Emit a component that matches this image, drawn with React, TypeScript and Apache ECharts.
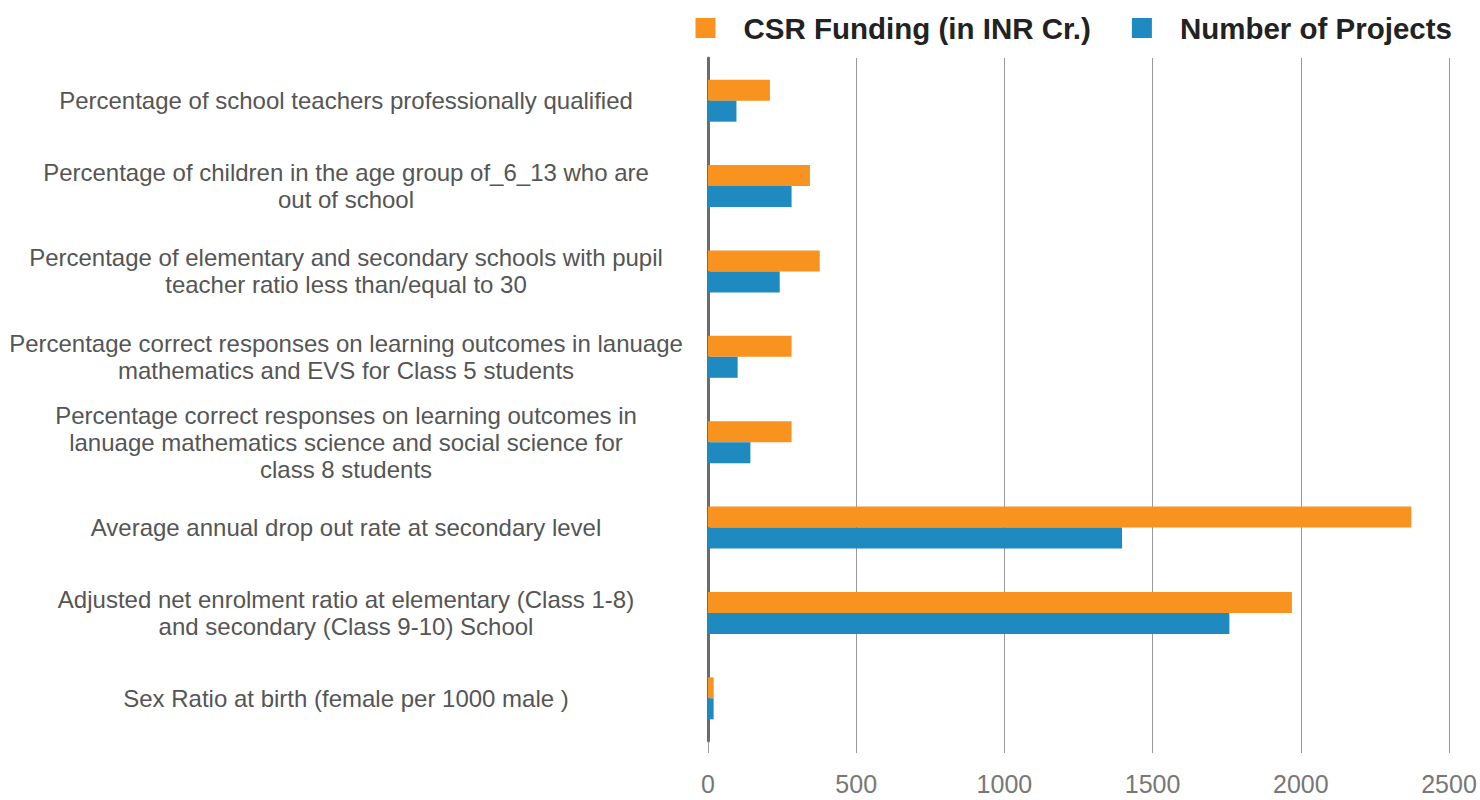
import React, { useEffect, useRef } from "react";
import * as echarts from "echarts";

const categories = [
  "Percentage of school teachers professionally qualified",
  "Percentage of children in the age group of_6_13 who are\nout of school",
  "Percentage of elementary and secondary schools with pupil\nteacher ratio less than/equal to 30",
  "Percentage correct responses on learning outcomes in lanuage\nmathematics and EVS for Class 5 students",
  "Percentage correct responses on learning outcomes in\nlanuage mathematics science and social science for\nclass 8 students",
  "Average annual drop out rate at secondary level",
  "Adjusted net enrolment ratio at elementary (Class 1-8)\nand secondary (Class 9-10) School",
  "Sex Ratio at birth (female per 1000 male )",
];

const csrFunding = [209, 344, 377, 282, 282, 2373, 1970, 19];
const numProjects = [96, 282, 242, 100, 143, 1397, 1759, 19];

const seriesNames = ["CSR Funding (in INR Cr.)", "Number of Projects"];
const seriesColors = ["#F7931E", "#1E8ABF"];

const FONT = "'Liberation Sans', Arial, Helvetica, sans-serif";

export default function App() {
  const ref = useRef<HTMLDivElement>(null);
  useEffect(() => {
    document.body.style.margin = "0";
    if (!ref.current) return;
    const chart = echarts.init(ref.current, undefined, { renderer: "svg" });
    chart.setOption({
      animation: false,
      backgroundColor: "#ffffff",
      textStyle: { fontFamily: FONT },
      legend: {
        top: 8,
        right: 23,
        itemWidth: 20,
        itemHeight: 20,
        itemGap: 41,
        icon: "rect",
        data: seriesNames,
        textStyle: {
          fontFamily: FONT,
          fontSize: 29.5,
          fontWeight: "bold",
          color: "#222222",
          padding: [0, 0, 0, 23],
        },
      },
      grid: { left: 708, right: 31, top: 58, bottom: 59, containLabel: false },
      xAxis: {
        type: "value",
        min: 0,
        max: 2500,
        interval: 500,
        axisLine: { show: false },
        axisTick: { show: true, length: 12, lineStyle: { color: "#999999", width: 1 } },
        splitLine: { show: true, lineStyle: { color: "#999999", width: 1 } },
        axisLabel: {
          color: "#777777",
          fontSize: 25,
          margin: 30,
          fontFamily: FONT,
          formatter: (v: number) => String(v),
        },
      },
      yAxis: {
        type: "category",
        inverse: true,
        data: categories,
        axisLine: { show: true, lineStyle: { color: "#6b6b6b", width: 3 } },
        axisTick: { show: false },
        axisLabel: {
          color: "#555555",
          fontSize: 24,
          lineHeight: 27,
          align: "center",
          margin: 362,
          fontFamily: FONT,
        },
      },
      series: [
        {
          name: seriesNames[0],
          type: "bar",
          data: csrFunding,
          barWidth: 21,
          barGap: "0%",
          itemStyle: { color: seriesColors[0] },
        },
        {
          name: seriesNames[1],
          type: "bar",
          data: numProjects,
          barWidth: 21,
          barGap: "0%",
          itemStyle: { color: seriesColors[1] },
        },
      ],
    });
    return () => chart.dispose();
  }, []);
  return <div ref={ref} style={{ width: 1480, height: 800 }} />;
}
